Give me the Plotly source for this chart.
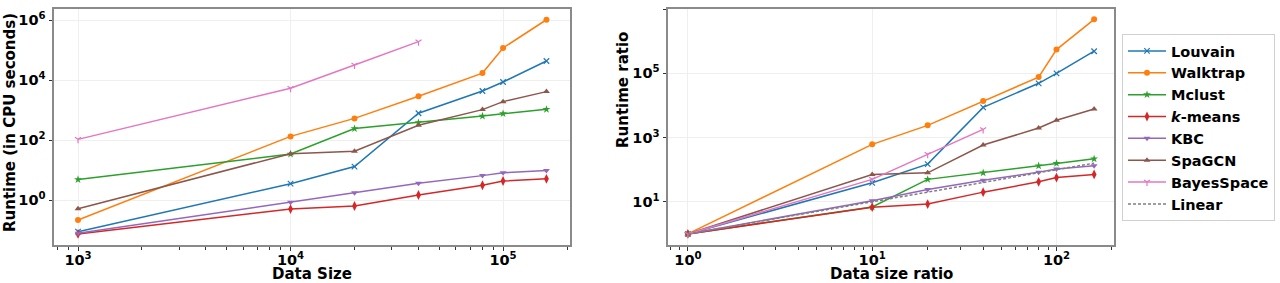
import plotly.graph_objects as go

# ---------------- data ----------------
data_size = [1000, 10000, 20000, 40000, 80000, 100000, 160000]
size_ratio = [1, 10, 20, 40, 80, 100, 160]
bayes_size = [1000, 10000, 20000, 40000]
bayes_ratio_x = [1, 10, 20, 40]

runtime_louvain = [0.088, 3.5, 13, 780, 4300, 8600, 43000]
runtime_walktrap = [0.215, 132, 525, 2880, 17000, 117000, 1020000]
runtime_mclust = [4.8, 34, 240, 380, 630, 755, 1050]
runtime_kmeans = [0.074, 0.5, 0.63, 1.47, 3.1, 4.3, 5.1]
runtime_kbc = [0.078, 0.84, 1.75, 3.6, 6.5, 8.1, 9.7]
runtime_spagcn = [0.51, 35, 42, 309, 1030, 1900, 4100]
runtime_bayes = [105, 5300, 31600, 190000]

ratio_louvain = [1, 39, 149, 8700, 49000, 100000, 489000]
ratio_walktrap = [1, 615, 2400, 13700, 76500, 550000, 4800000]
ratio_mclust = [1, 6.9, 50, 80, 132, 157, 218]
ratio_kmeans = [1, 6.8, 8.5, 20, 42, 57, 71]
ratio_kbc = [1, 10.7, 24, 47, 84, 105, 132]
ratio_spagcn = [1, 71, 80, 585, 1980, 3450, 7750]
ratio_bayes = [1, 50, 300, 1800]
ratio_linear = [1, 10, 20, 40, 80, 100, 160]

method_names = ["Louvain", "Walktrap", "Mclust", "<i>k</i>-means", "KBC", "SpaGCN", "BayesSpace"]

# ---------------- styles ----------------
colors = ["#1f77b4", "#ff7f0e", "#2ca02c", "#d62728", "#9467bd", "#8c564b", "#e377c2"]
symbols = ["x-thin", "circle", "star", "diamond-tall", "triangle-down", "triangle-up", "y-down"]
sizes = [5.5, 6, 6, 7, 6, 6, 5]

W, H = 1280, 283
FONT = "DejaVu Sans"


def px_x(p):
    return p / W


def px_y(p):
    return (H - p) / H


fig = go.Figure()

left_series = [
    (data_size, runtime_louvain), (data_size, runtime_walktrap), (data_size, runtime_mclust),
    (data_size, runtime_kmeans), (data_size, runtime_kbc), (data_size, runtime_spagcn),
    (bayes_size, runtime_bayes),
]
right_series = [
    (size_ratio, ratio_louvain), (size_ratio, ratio_walktrap), (size_ratio, ratio_mclust),
    (size_ratio, ratio_kmeans), (size_ratio, ratio_kbc), (size_ratio, ratio_spagcn),
    (bayes_ratio_x, ratio_bayes),
]


def marker(i):
    return dict(symbol=symbols[i], size=sizes[i], color=colors[i],
                line=dict(width=1.2 if symbols[i] in ("x-thin", "y-down") else 0, color=colors[i]))


for i, (xs, ys) in enumerate(left_series):
    fig.add_trace(go.Scatter(x=xs, y=ys, mode="lines+markers", name=method_names[i],
                             line=dict(color=colors[i], width=1.5), marker=marker(i),
                             showlegend=False, xaxis="x", yaxis="y"))

for i, (xs, ys) in enumerate(right_series):
    fig.add_trace(go.Scatter(x=xs, y=ys, mode="lines+markers", name=method_names[i],
                             line=dict(color=colors[i], width=1.5), marker=marker(i),
                             showlegend=True, legendgroup=str(i), xaxis="x2", yaxis="y2"))

fig.add_trace(go.Scatter(x=size_ratio, y=ratio_linear, mode="lines", name="Linear",
                         line=dict(color="#7f7f7f", width=1.5, dash="3px,2px"),
                         showlegend=True, legendgroup="lin", xaxis="x2", yaxis="y2"))

tickfont = dict(family=FONT, size=14.5, color="black", weight="bold")
frame = dict(showline=True, linecolor="#8a8a8a", linewidth=2, mirror=True, zeroline=False,
             showgrid=True, gridcolor="#efefef", gridwidth=1, automargin=False,
             ticks="outside", ticklen=3.5, tickwidth=1, tickcolor="#333333", tickfont=tickfont)


def minor_vals(lo_exp, hi_exp):
    return [m * 10 ** e for e in range(lo_exp, hi_exp + 1) for m in range(2, 10)]


fig.update_layout(
    template="none",
    width=W, height=H,
    margin=dict(l=0, r=0, t=0, b=0, autoexpand=False),
    plot_bgcolor="white", paper_bgcolor="white",
    font=dict(family=FONT, color="black"),
    xaxis=dict(type="log", domain=[px_x(54), px_x(570)], range=[2.887, 5.315],
               tickmode="array", tickvals=[1e3, 1e4, 1e5],
               ticktext=["10<sup>3</sup>", "10<sup>4</sup>", "10<sup>5</sup>"],
               minor=dict(ticks="outside", ticklen=2.5, tickcolor="#333333", tickwidth=0.8,
                          tickvals=minor_vals(2, 5), showgrid=False),
               ticklabelstandoff=-3, anchor="y", **frame),
    yaxis=dict(type="log", domain=[px_y(245), px_y(9)], range=[-1.5, 6.367],
               tickmode="array", tickvals=[1, 1e2, 1e4, 1e6],
               ticktext=["10<sup>0</sup>", "10<sup>2</sup>", "10<sup>4</sup>", "10<sup>6</sup>"],
               anchor="x", **frame),
    xaxis2=dict(type="log", domain=[px_x(668), px_x(1114)], range=[-0.108, 2.312],
                tickmode="array", tickvals=[1, 10, 100],
                ticktext=["10<sup>0</sup>", "10<sup>1</sup>", "10<sup>2</sup>"],
                minor=dict(ticks="outside", ticklen=2.5, tickcolor="#333333", tickwidth=0.8,
                           tickvals=minor_vals(-1, 2), showgrid=False),
                ticklabelstandoff=-3, anchor="y2", **frame),
    yaxis2=dict(type="log", domain=[px_y(245), px_y(9)], range=[-0.345, 7.004],
                tickmode="array", tickvals=[10, 1e3, 1e5, 1e7],
                ticktext=["10<sup>1</sup>", "10<sup>3</sup>", "10<sup>5</sup>", "10<sup>7</sup>"],
                anchor="x2", **frame),
    legend=dict(x=px_x(1122), y=px_y(34), xanchor="left", yanchor="top",
                bgcolor="white", bordercolor="#d0d0d0", borderwidth=1,
                font=dict(family=FONT, size=14.5, color="black", weight="bold"),
                traceorder="grouped", tracegroupgap=0, itemwidth=38),
)

title_font = dict(family=FONT, size=15, color="black", weight="bold")
fig.add_annotation(text="Data Size", x=px_x(312), y=px_y(274), xref="paper", yref="paper",
                   showarrow=False, font=title_font, xanchor="center", yanchor="middle")
fig.add_annotation(text="Data size ratio", x=px_x(891), y=px_y(274), xref="paper", yref="paper",
                   showarrow=False, font=title_font, xanchor="center", yanchor="middle")
fig.add_annotation(text="Runtime (in CPU seconds)", x=px_x(10), y=px_y(123), xref="paper", yref="paper",
                   showarrow=False, font=title_font, textangle=-90, xanchor="center", yanchor="middle")
fig.add_annotation(text="Runtime ratio", x=px_x(623), y=px_y(90), xref="paper", yref="paper",
                   showarrow=False, font=title_font, textangle=-90, xanchor="center", yanchor="middle")

fig.write_html("out.html", config={"displayModeBar": False},
               post_script="document.body.style.margin='0';document.body.style.overflow='hidden';")
